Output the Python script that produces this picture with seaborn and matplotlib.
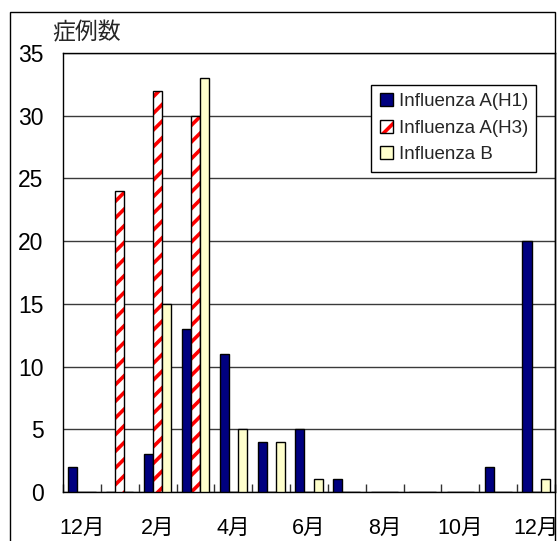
import numpy as np
import pandas as pd
import matplotlib
matplotlib.use('Agg')
import matplotlib.pyplot as plt
import matplotlib.patches as mpatches
from matplotlib.colors import to_rgba
import seaborn as sns

months = ['12月', '1月', '2月', '3月', '4月', '5月', '6月', '7月', '8月', '9月', '10月', '11月', '12月']
tick_labels = ['12月', '', '2月', '', '4月', '', '6月', '', '8月', '', '10月', '', '12月']
series = ['Influenza A(H1)', 'Influenza A(H3)', 'Influenza B']
h1 = [2, 0, 3, 13, 11, 4, 5, 1, 0, 0, 0, 2, 20]
h3 = [0, 24, 32, 30, 0, 0, 0, 0, 0, 0, 0, 0, 0]
b = [0, 0, 15, 33, 5, 4, 1, 0, 0, 0, 0, 0, 1]
yticks = [0, 5, 10, 15, 20, 25, 30, 35]
ylabel = '症例数'

colors = ['#000080', '#ffffff', '#ffffcc']
stripe = '#ff0000'

sns.set_theme(style='white')
plt.rcParams['font.family'] = ['Liberation Sans', 'Noto Sans CJK JP', 'DejaVu Sans']
plt.rcParams['hatch.linewidth'] = 2.6

n = len(months)
df = pd.DataFrame({
    'idx': np.tile(np.arange(n), 3),
    'series': np.repeat(series, n),
    'value': h1 + h3 + b,
})

fig = plt.figure(figsize=(5.58, 5.41), dpi=100)
fig.patch.set_facecolor('white')
ax = fig.add_axes([63 / 558, 1 - 492 / 541, (555 - 63) / 558, (492 - 53) / 541])

sns.barplot(data=df, x='idx', y='value', hue='series', hue_order=series,
            order=list(range(n)), palette=colors, width=0.72, saturation=1,
            edgecolor='black', linewidth=1, legend=False, ax=ax, zorder=3)

for p in ax.containers[1]:
    p.set_hatch('//')
    p._hatch_color = to_rgba(stripe)

ax.set_xlim(-0.5, n - 0.5)
ax.set_ylim(0, 35)
ax.set_yticks(yticks)
ax.set_yticklabels([str(v) for v in yticks], fontsize=16.5)
ax.set_xticks(range(n))
ax.set_xticklabels(tick_labels, fontsize=15.5)
ax.set_xticks(np.arange(-0.5, n, 1), minor=True)
ax.tick_params(axis='x', which='major', length=0, pad=19, colors='black')
ax.tick_params(axis='x', which='minor', direction='in', length=6, width=1,
               bottom=True, color='#333333')
ax.tick_params(axis='y', which='major', length=0, pad=14, colors='black')
ax.set_xlabel('')
ax.set_ylabel('')
ax.yaxis.grid(True, color='#3a3a3a', linewidth=1)
ax.set_axisbelow(True)
for s in ax.spines.values():
    s.set_color('black')
    s.set_linewidth(1)

handles = []
for lab, c in zip(series, colors):
    h = mpatches.Patch(facecolor=c, edgecolor='black', linewidth=1, label=lab)
    if lab == series[1]:
        h.set_hatch('//')
        h._hatch_color = to_rgba(stripe)
    handles.append(h)
leg = ax.legend(handles=handles, loc='upper right', bbox_to_anchor=(0.962, 0.928),
                fontsize=13.5, frameon=True, fancybox=False, framealpha=1,
                edgecolor='black', handlelength=0.7, handleheight=0.7,
                handletextpad=0.3, labelspacing=0.5, borderpad=0.45,
                borderaxespad=0)
leg.get_frame().set_linewidth(1)
leg.set_zorder(5)

fig.text(87 / 558, 1 - 33 / 541, ylabel, ha='center', va='center', fontsize=16.5)

fig.patches.append(mpatches.Rectangle((10 / 558, -0.05), (555 - 10) / 558, 1 - 12 / 541 + 0.05,
                                      transform=fig.transFigure, fill=False,
                                      edgecolor='black', linewidth=1))

fig.savefig('out.png', dpi=100)
